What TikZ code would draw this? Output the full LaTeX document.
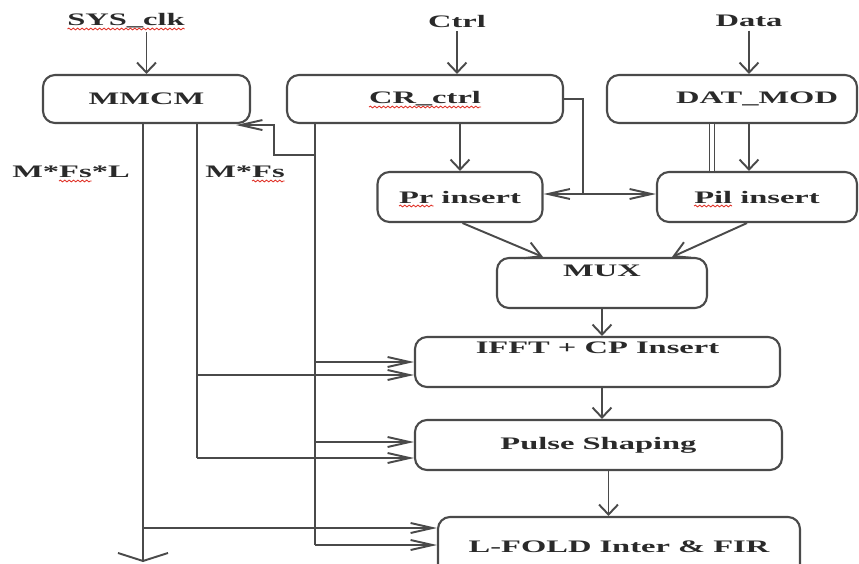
\documentclass[tikz,border=0pt]{standalone}
\usepackage{fontspec}
\setmainfont{Liberation Serif}[FakeStretch=1.85]
\usetikzlibrary{arrows.meta,calc,decorations.pathmorphing}
\definecolor{cline}{HTML}{4A4A4A}
\definecolor{ctext}{HTML}{2A2A2A}
\definecolor{cspell}{HTML}{E0352B}
\tikzset{
  blk/.style={draw=cline, rounded corners=2.4mm, line width=1.2pt, align=center,
              inner sep=2pt, text=ctext, font=\bfseries},
  lbl/.style={text=ctext, font=\bfseries, inner sep=2pt},
  wire/.style={draw=cline, line width=1.1pt},
  vflow/.style={wire, -{Straight Barb[length=2mm,width=3.8mm]}},
  hflow/.style={wire, -{Straight Barb[length=4.4mm,width=2mm]}},
  dflow/.style={wire, -{Straight Barb[length=3mm,width=3.4mm]}},
  dline/.style={draw=cline, line width=0.8pt, double=white, double distance=2pt},
  spell/.style={draw=cspell, line width=0.5pt, decorate,
                decoration={snake, amplitude=0.5pt, segment length=2.5pt}},
}
\begin{document}
\begin{tikzpicture}
  \clip (0,0) rectangle (17.18,-11.26);
  \node[lbl] (sysclk) at (2.52,-0.42) {SYS\_clk};
  \node[lbl] (ctrl) at (9.14,-0.42) {Ctrl};
  \node[lbl] (data) at (14.98,-0.42) {Data};
  \node[blk, minimum width=4.14cm, minimum height=0.96cm] (mmcm) at (2.93,-1.98) {MMCM};
  \node[blk, minimum width=5.52cm, minimum height=0.96cm] (crc) at (8.5,-1.98) {CR\_ctrl};
  \node[blk, minimum width=5.0cm, minimum height=0.96cm] (datmod) at (14.64,-1.98) {\hspace*{1cm}DAT\_MOD};
  \node[blk, minimum width=3.3cm, minimum height=1.0cm] (prins) at (9.2,-3.94) {Pr insert};
  \node[blk, minimum width=4.0cm, minimum height=1.0cm] (pilins) at (15.14,-3.94) {Pil insert};
  \node[blk, minimum width=4.2cm, minimum height=1.0cm] (mux) at (12.04,-5.66) {MUX\\[2pt]\mbox{}};
  \node[blk, minimum width=7.3cm, minimum height=1.0cm] (ifft) at (11.95,-7.24) {IFFT + CP Insert\\[4pt]\mbox{}};
  \node[blk, minimum width=7.34cm, minimum height=1.0cm] (pulse) at (11.97,-8.9) {Pulse Shaping};
  \node[blk, minimum width=7.24cm, minimum height=1.2cm] (lfold) at (12.38,-10.94) {L-FOLD Inter \& FIR};
  \node[lbl] (fslbl) at (1.42,-3.44) {M*Fs*L};
  \node[lbl] (fslbl2) at (4.9,-3.44) {M*Fs};

  \coordinate (clkout) at (2.86,-11.24);
  \coordinate (busL) at (2.86,-10.56);
  \coordinate (busF1) at (3.94,-7.5);
  \coordinate (busF2) at (3.94,-9.16);
  \coordinate (busC1) at (6.3,-7.24);
  \coordinate (busC2) at (6.3,-8.84);
  \coordinate (busC3) at (6.3,-10.9);
  \coordinate (fb) at (6.3,-3.1);
  \coordinate (split) at (11.66,-3.88);
  \coordinate (dl) at (14.24,0);
  \coordinate (pout) at ($(pulse.south)+(0.2,0)$);

  \draw[vflow] (sysclk.south -| mmcm.north) -- (mmcm.north);
  \draw[vflow] (ctrl.south) -- (ctrl.south |- crc.north);
  \draw[vflow] (data.south) -- (data.south |- datmod.north);
  \draw[vflow] (crc.south -| prins.north) -- (prins.north);
  \draw[wire] (crc.east) -| (split);
  \draw[hflow] (split) -- (split -| prins.east);
  \draw[hflow] (split) -- (split -| pilins.west);
  \draw[dline] (datmod.south -| dl) -- (pilins.north -| dl);
  \draw[vflow] (datmod.south -| data.south) -- (pilins.north -| data.south);
  \draw[dflow] ($(prins.south)+(0.05,0)$) -- ($(mux.north)+(-1.18,0)$);
  \draw[dflow] ($(pilins.south)+(-0.2,0)$) -- ($(mux.north)+(1.4,0)$);
  \draw[vflow] (mux.south) -- (mux.south |- ifft.north);
  \draw[vflow] (ifft.south -| mux.south) -- (pulse.north -| mux.south);
  \draw[vflow] (pout) -- (pout |- lfold.north);

  \draw[wire, -{Straight Barb[length=1.6mm,width=1cm]}] (mmcm.south -| clkout) -- (clkout);
  \draw[hflow] (busL) -- (busL -| lfold.west);
  \draw[wire] (mmcm.south -| busF2) -- (busF2);
  \draw[hflow] (busF1) -- (busF1 -| ifft.west);
  \draw[hflow] (busF2) -- (busF2 -| pulse.west);
  \draw[wire] (crc.south -| busC3) -- (busC3);
  \draw[hflow] (busC1) -- (busC1 -| ifft.west);
  \draw[hflow] (busC2) -- (busC2 -| pulse.west);
  \draw[hflow] (busC3) -- (busC3 -| lfold.west);
  \draw[hflow] (fb) -| ($(mmcm.south east)+(0.46,-0.02)$) -- ($(mmcm.south east)+(-0.3,-0.02)$);

  \draw[spell] (1.35,-0.58) -- (3.69,-0.58);
  \draw[spell] (7.38,-2.14) -- (9.62,-2.14);
  \draw[spell] (7.98,-4.12) -- (8.67,-4.12);
  \draw[spell] (13.88,-4.12) -- (14.64,-4.12);
  \draw[spell] (1.18,-3.62) -- (1.83,-3.62);
  \draw[spell] (5.04,-3.62) -- (5.69,-3.62);
\end{tikzpicture}
\end{document}
